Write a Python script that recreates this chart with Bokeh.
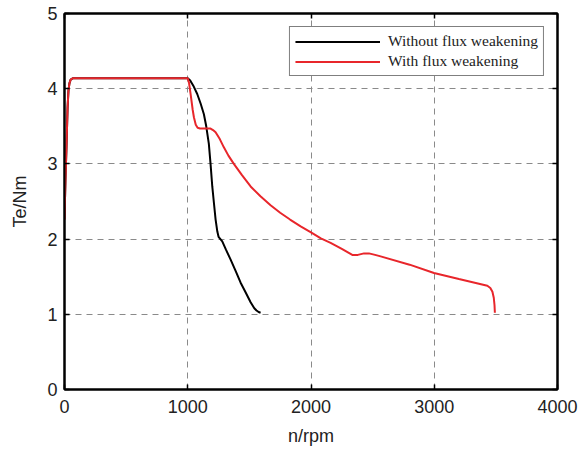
from bokeh.plotting import figure
from bokeh.models import Range1d, LinearAxis, FixedTicker, Legend, LegendItem
from bokeh.embed import file_html
from bokeh.resources import INLINE

# ---- data ----
rpm_without = [0, 8, 16, 25, 32, 40, 50, 70, 1000, 1020, 1045, 1077, 1105, 1131, 1150,
               1171, 1185, 1199, 1213, 1226, 1240, 1250, 1265, 1280, 1310, 1347, 1390,
               1429, 1470, 1510, 1540, 1558, 1575, 1591]
te_without = [2.26, 2.8, 3.22, 3.75, 3.97, 4.07, 4.12, 4.14, 4.14, 4.11, 4.04, 3.93, 3.80,
              3.66, 3.50, 3.27, 3.0, 2.70, 2.47, 2.26, 2.10, 2.03, 2.0, 1.97, 1.86, 1.73,
              1.57, 1.42, 1.29, 1.16, 1.08, 1.05, 1.03, 1.02]

rpm_with = [0, 8, 16, 25, 32, 40, 50, 70, 1000, 1010, 1023, 1040, 1050, 1065, 1080, 1100,
            1131, 1160, 1185, 1205, 1226, 1260, 1293, 1330, 1374, 1440, 1510, 1590, 1672,
            1750, 1830, 1916, 2000, 2080, 2159, 2250, 2335, 2380, 2430, 2470, 2520, 2565,
            2800, 2998, 3200, 3431, 3455, 3472, 3483, 3489, 3491, 3492]
te_with = [2.26, 2.8, 3.22, 3.75, 3.97, 4.07, 4.12, 4.14, 4.14, 4.08, 3.93, 3.72, 3.62,
           3.52, 3.48, 3.47, 3.47, 3.47, 3.47, 3.45, 3.42, 3.33, 3.22, 3.11, 3.00, 2.85,
           2.70, 2.57, 2.45, 2.35, 2.26, 2.17, 2.09, 2.01, 1.95, 1.87, 1.79, 1.79, 1.81,
           1.81, 1.79, 1.77, 1.66, 1.55, 1.47, 1.38, 1.35, 1.30, 1.22, 1.12, 1.05, 1.02]

x_ticks = [0, 1000, 2000, 3000, 4000]
y_ticks = [0, 1, 2, 3, 4, 5]
series_labels = ["Without flux weakening", "With flux weakening"]

# ---- figure ----
p = figure(width=580, height=448, output_backend="svg", toolbar_location=None,
           x_range=Range1d(0, 4000), y_range=Range1d(0, 5),
           min_border_left=64, min_border_right=23, min_border_top=13, min_border_bottom=58)
p.background_fill_color = "white"
p.border_fill_color = "white"
p.outline_line_color = "black"
p.outline_line_width = 2

FONT = "Liberation Sans"
for ax in (p.xaxis[0], p.yaxis[0]):
    ax.major_label_text_font = FONT
    ax.major_label_text_font_size = "18px"
    ax.major_label_text_color = "#222222"
    ax.axis_label_text_font = FONT
    ax.axis_label_text_font_size = "18px"
    ax.axis_label_text_font_style = "normal"
    ax.axis_label_text_color = "#222222"
    ax.major_tick_in = 5
    ax.major_tick_out = 0
    ax.minor_tick_line_color = None
    ax.axis_line_width = 2
    ax.major_tick_line_width = 1.5

p.xaxis[0].ticker = FixedTicker(ticks=x_ticks)
p.yaxis[0].ticker = FixedTicker(ticks=y_ticks)
p.xaxis[0].axis_label = "n/rpm"
p.yaxis[0].axis_label = "Te/Nm"
p.xaxis[0].major_label_standoff = 10
p.xaxis[0].axis_label_standoff = 10
p.yaxis[0].major_label_standoff = 7
p.yaxis[0].axis_label_standoff = 14

for loc, tk in (("above", x_ticks), ("right", y_ticks)):
    a = LinearAxis(ticker=FixedTicker(ticks=tk), major_label_text_font_size="0px",
                   major_label_standoff=0, major_tick_in=5, major_tick_out=0,
                   minor_tick_line_color=None, axis_line_width=2, major_tick_line_width=1.5)
    p.add_layout(a, loc)

for g in (p.xgrid[0], p.ygrid[0]):
    g.grid_line_color = "#8a8a8a"
    g.grid_line_dash = "6 5"
    g.grid_line_width = 1
p.xgrid[0].ticker = FixedTicker(ticks=x_ticks)
p.ygrid[0].ticker = FixedTicker(ticks=y_ticks)

r1 = p.line(rpm_without, te_without, line_color="black", line_width=2)
r2 = p.line(rpm_with, te_with, line_color="#e8262b", line_width=2)

legend = Legend(items=[LegendItem(label=series_labels[0], renderers=[r1]),
                       LegendItem(label=series_labels[1], renderers=[r2])],
                location="top_right", margin=13, padding=5, spacing=2,
                glyph_width=85, glyph_height=15, label_height=15, label_standoff=8,
                label_text_font="Liberation Serif", label_text_font_size="15.5px",
                label_text_color="#222222",
                border_line_color="black", border_line_width=1.5,
                background_fill_alpha=1.0)
p.add_layout(legend)

open("out.html", "w").write(file_html(p, INLINE))
